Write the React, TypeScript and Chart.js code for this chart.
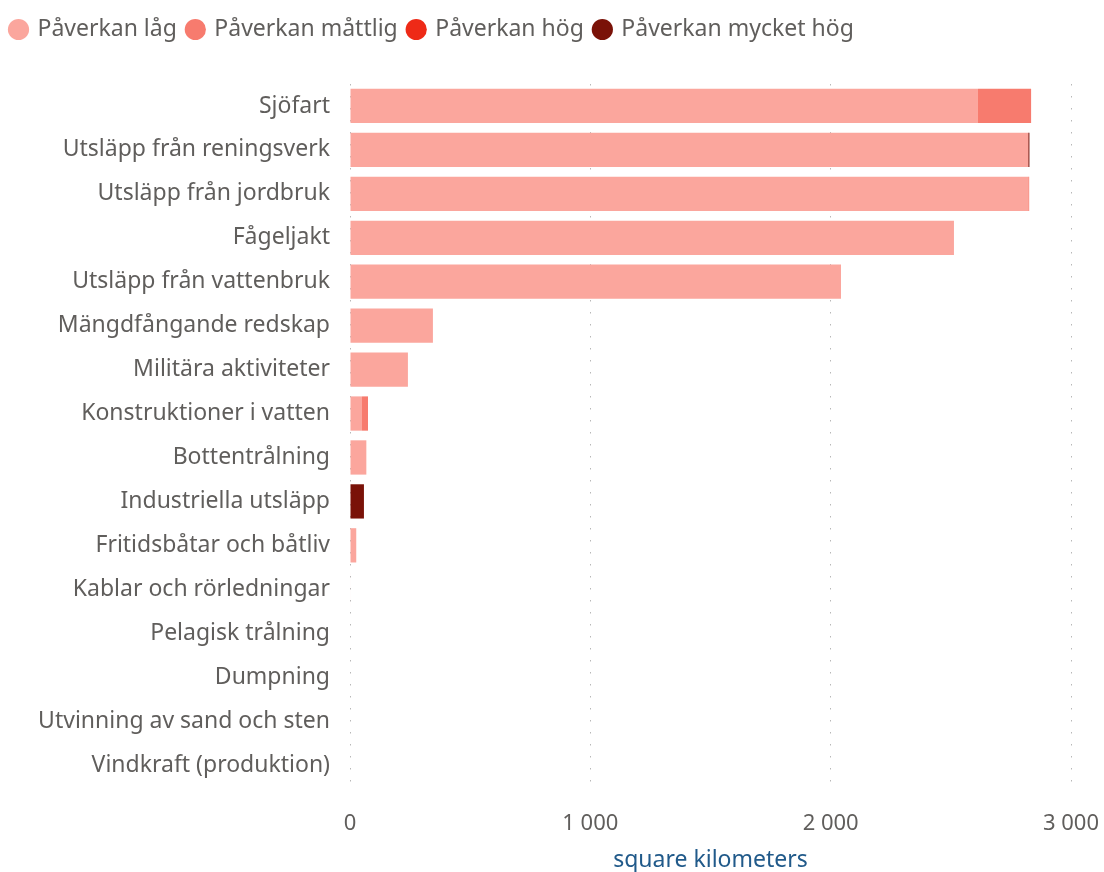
import React, { useEffect, useRef } from "react";
import { Chart, registerables } from "chart.js";

Chart.register(...registerables);

const categories = [
  "Sjöfart",
  "Utsläpp från reningsverk",
  "Utsläpp från jordbruk",
  "Fågeljakt",
  "Utsläpp från vattenbruk",
  "Mängdfångande redskap",
  "Militära aktiviteter",
  "Konstruktioner i vatten",
  "Bottentrålning",
  "Industriella utsläpp",
  "Fritidsbåtar och båtliv",
  "Kablar och rörledningar",
  "Pelagisk trålning",
  "Dumpning",
  "Utvinning av sand och sten",
  "Vindkraft (produktion)",
];

const seriesNames = ["Påverkan låg", "Påverkan måttlig", "Påverkan hög", "Påverkan mycket hög"];
const lowValues = [2613, 2822, 2822, 2513, 2043, 345, 241, 50, 68, 0, 26, 2, 0, 0, 0, 0];
const moderateValues = [221, 0, 4, 0, 0, 0, 0, 25, 0, 0, 0, 0, 0, 0, 0, 0];
const highValues = [0, 0, 0, 0, 0, 0, 0, 0, 0, 0, 0, 0, 0, 0, 0, 0];
const veryHighValues = [0, 5, 0, 0, 0, 0, 0, 0, 0, 58, 0, 0, 0, 0, 0, 0];
const seriesColors = ["#FBA69D", "#F77B6E", "#EE2A17", "#7A1208"];
const xTicks = [0, 1000, 2000, 3000];

const FONT = "'Noto Sans', 'Open Sans', sans-serif";

export default function App() {
  const ref = useRef<HTMLCanvasElement | null>(null);

  useEffect(() => {
    if (!ref.current) return;
    const legendSpace = {
      id: "legendSpace",
      beforeInit(chart: any) {
        const origFit = chart.legend.fit;
        chart.legend.fit = function () {
          origFit.call(this);
          this.height += 33;
        };
      },
    };
    const data = [lowValues, moderateValues, highValues, veryHighValues];
    const chart = new Chart(ref.current, {
      type: "bar",
      data: {
        labels: categories,
        datasets: seriesNames.map((name, i) => ({
          label: name,
          data: data[i],
          backgroundColor: seriesColors[i],
          borderWidth: 0,
          categoryPercentage: 0.78,
          barPercentage: 1,
        })),
      },
      options: {
        indexAxis: "y",
        responsive: false,
        animation: false,
        layout: { padding: { left: 0, right: 33, top: 7, bottom: 0 } },
        plugins: {
          tooltip: { enabled: false },
          legend: {
            position: "top",
            align: "start",
            labels: {
              usePointStyle: true,
              pointStyle: "circle",
              boxHeight: 15,
              boxWidth: 15,
              padding: 11,
              color: "#605E5C",
              font: { family: FONT, size: 23 },
            },
          },
        },
        scales: {
          x: {
            stacked: true,
            min: 0,
            max: 3000,
            afterBuildTicks(scale: any) {
              scale.ticks = xTicks.map((v) => ({ value: v }));
            },
            afterFit(scale: any) {
              scale.paddingLeft = 0;
              scale.paddingRight = 0;
              scale.height = 85;
            },
            ticks: {
              color: "#605E5C",
              font: { family: FONT, size: 22 },
              padding: 24,
              maxRotation: 0,
              callback: (v: any) => String(v).replace(/\B(?=(\d{3})+(?!\d))/g, " "),
            },
            grid: {
              color: "#B8B8B8",
              lineWidth: 1,
              drawTicks: false,
            },
            border: { display: false, dash: [1.5, 10.5] },
            title: {
              display: true,
              text: "square kilometers",
              color: "#215A8A",
              font: { family: FONT, size: 23, lineHeight: 1 },
              padding: { top: 0, bottom: 0 },
            },
          },
          y: {
            stacked: true,
            afterFit(scale: any) {
              scale.width = 350;
            },
            ticks: {
              color: "#605E5C",
              font: { family: FONT, size: 23 },
              padding: 20,
              autoSkip: false,
            },
            grid: { display: false, drawTicks: false },
            border: { display: false },
          },
        },
      },
      plugins: [legendSpace],
    } as any);
    return () => chart.destroy();
  }, []);

  return (
    <div style={{ position: "fixed", left: 0, top: 0, width: 1104, height: 872, background: "#fff" }}>
      <canvas ref={ref} width={1104} height={872} />
    </div>
  );
}
